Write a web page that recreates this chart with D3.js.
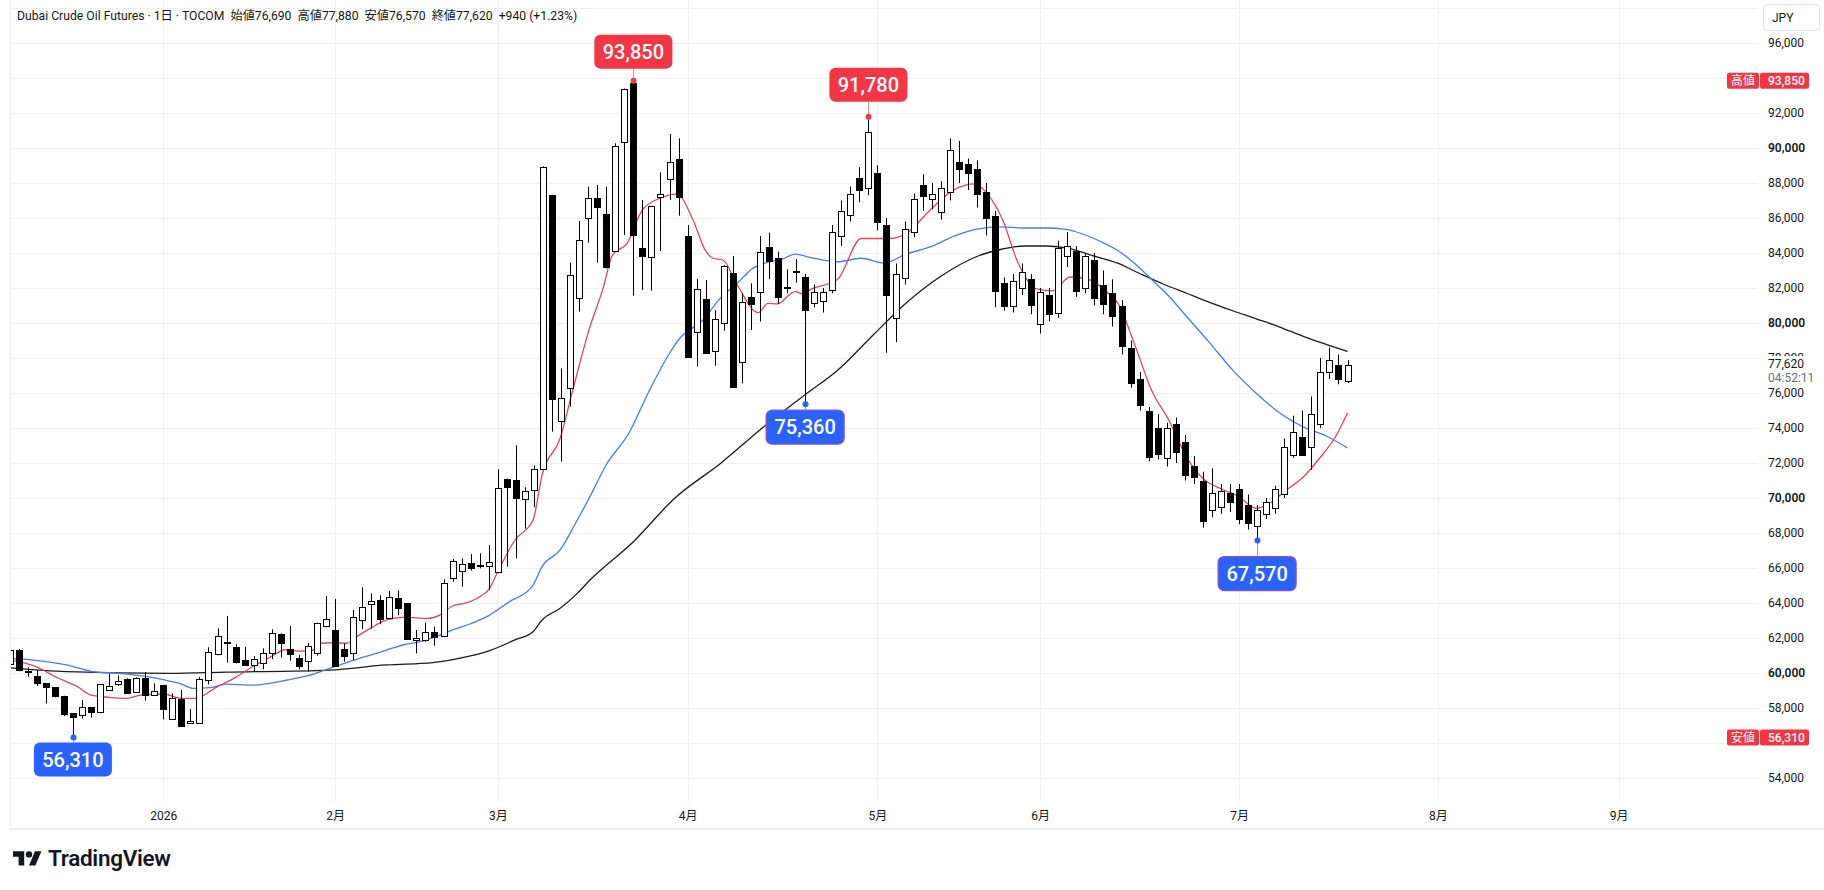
<!DOCTYPE html>
<html>
<head>
<meta charset="utf-8">
<script src="https://cdn.jsdelivr.net/npm/d3@7"></script>
<style>
  body { margin: 0; background: #fff; }
  svg { display: block; font-family: Roboto, "Noto Sans CJK JP", sans-serif; }
</style>
</head>
<body>
<svg></svg>
<script>
// daily bars, [open, high, low, close]; first entry is bar index -17 (0 = first session of 2026)
var firstBar = -17;
var bars = [
    [60500, 61400, 60400, 61300], [61300, 61370, 60100, 60170], [60100, 60320, 59790, 60050],
    [59830, 60170, 59260, 59450], [59430, 59430, 58250, 59220], [59180, 59200, 58600, 58650],
    [58690, 58700, 57540, 57660], [57700, 57700, 56310, 57450], [57640, 58460, 57390, 58080],
    [58040, 58050, 57450, 57730], [57750, 59360, 57740, 59350], [59010, 59940, 59000, 59240],
    [59350, 59870, 59260, 59540], [59640, 59700, 58800, 58840], [58950, 59750, 58940, 59730],
    [59730, 60060, 58420, 58780], [58720, 59410, 58700, 58970],
    // 2026
    [59300, 59300, 57350, 57920], [57370, 58840, 57360, 58550], [58510, 59030, 56980, 56990],
    [57130, 57940, 57120, 57250], [57160, 59770, 57120, 59660], [59600, 61470, 59350, 61220],
    [61090, 62550, 61010, 62100], [61760, 63260, 60590, 61700], [61470, 61660, 60550, 60590],
    [60720, 61500, 60420, 60440], [60420, 60970, 60080, 60780], [60550, 61410, 60210, 61120],
    [61120, 62500, 60800, 62270], [62230, 62260, 60880, 61730], [61350, 62690, 60700, 61050],
    [60840, 61030, 60210, 60380], [60690, 61730, 60080, 61560], [61120, 62880, 60990, 62840],
    [62720, 64400, 62610, 63100],
    // Feb
    [62460, 64230, 60400, 60420], [61370, 61700, 60650, 60990], [61180, 63600, 60740, 63220],
    [63030, 64900, 62510, 63790], [63940, 64550, 62530, 64100], [64150, 64440, 62800, 63070],
    [63180, 64690, 63150, 64360], [64300, 64720, 63300, 63750], [63980, 64000, 61900, 61920],
    [61890, 62460, 61120, 62000], [61890, 62880, 61790, 62320], [62340, 62650, 61560, 62080],
    [62080, 65350, 62050, 65120], [65450, 66510, 65220, 66420], [65790, 66550, 64930, 66210],
    [66270, 66800, 65850, 65980], [66150, 66840, 65980, 66190], [66080, 67310, 64740, 66320],
    // Mar
    [65730, 71640, 65700, 70550], [71070, 71100, 66080, 70610], [71030, 73010, 66550, 70020],
    [69980, 70610, 68250, 70420], [70460, 71870, 69470, 71640], [71640, 88950, 71600, 88900],
    [87310, 87330, 73790, 75650], [74360, 77410, 72080, 75700], [76270, 83450, 75220, 82740],
    [81410, 85830, 80650, 84740], [85980, 87790, 84590, 87120], [87120, 87890, 83450, 86590],
    [86210, 87790, 83120, 83160], [84130, 90270, 84100, 90130], [90320, 93400, 85030, 93350],
    [93730, 93850, 81560, 85070], [84270, 87030, 81890, 83790], [83790, 86700, 81850, 86690],
    [87180, 88610, 84110, 87350], [88210, 90800, 87030, 89180], [89350, 90550, 86130, 87170],
    // Apr
    [84970, 85600, 78000, 78080], [79470, 82510, 77510, 81940], [81370, 82460, 78250, 78300],
    [78360, 80740, 77560, 80210], [79980, 83300, 79560, 83260], [82840, 83830, 76300, 76320],
    [77790, 81700, 76550, 81220], [81470, 82270, 79600, 81050], [81730, 84970, 80080, 84040],
    [84320, 85160, 82510, 83500], [83700, 84080, 81090, 81450], [82040, 83070, 81700, 81990],
    [82960, 83660, 82300, 83000], [82650, 82820, 75360, 80740], [81200, 82200, 80900, 81800],
    [81300, 82000, 80600, 81800], [81900, 85600, 81700, 85200], [85000, 87000, 84400, 86400],
    [86200, 87800, 85800, 87400], [88300, 88900, 86900, 87600], [87700, 91780, 87300, 90900],
    // May
    [88600, 89000, 85300, 85800], [85600, 86000, 78300, 81600], [80300, 83400, 78900, 82800],
    [82600, 85800, 82200, 85400], [85200, 87400, 84900, 87100], [87900, 88500, 86400, 87300],
    [87100, 88000, 86500, 87400], [86300, 88100, 85900, 87700], [87500, 90550, 87000, 89900],
    [89200, 90400, 88000, 88800], [89100, 89400, 87600, 88600], [88800, 89300, 86600, 87400],
    [87500, 88000, 85000, 86000], [86100, 86400, 80900, 81800], [82300, 82600, 80700, 81000],
    [81000, 82800, 80600, 82400], [82000, 83400, 81600, 82900], [82500, 82800, 80500, 81000],
    // Jun
    [80000, 82000, 79400, 81800], [81600, 82000, 80100, 80500], [80600, 84700, 80300, 84300],
    [83800, 85200, 83200, 84400], [84100, 84400, 81500, 81800], [82000, 84000, 81700, 83800],
    [83600, 84000, 81000, 81400], [82200, 83000, 80500, 81100], [81700, 82500, 79800, 80400],
    [81000, 81300, 78200, 78700], [78600, 79000, 76300, 76600], [76800, 77200, 75000, 75300],
    [75000, 75200, 72100, 72400], [74000, 74800, 72200, 72500], [72300, 74300, 71800, 74000],
    [74200, 74600, 72000, 72600], [73200, 73600, 71000, 71300], [71800, 72400, 70800, 71200],
    [71000, 71500, 68300, 68700], [69300, 71700, 68900, 70300], [69500, 70800, 69100, 70400],
    [70300, 70800, 69200, 69800],
    // Jul
    [70500, 70800, 68500, 68800], [69600, 70200, 68200, 68600], [68400, 69600, 67570, 69300],
    [69100, 70000, 68800, 69800], [69400, 70700, 69100, 70500], [70200, 73400, 70000, 72900],
    [72500, 74700, 72300, 73800], [73500, 75000, 72400, 72500], [72900, 75800, 71600, 74800],
    [74200, 78000, 74000, 77200], [77200, 78600, 76800, 77900], [77600, 78200, 76500, 76800],
    [76690, 77880, 76570, 77620]
];

// moving averages: [bar index, value]
var maRed = [[-17,60750],[-14,60350],[-12,59800],[-9.5,59220],[-8,58740],[-6,58610],[-4,58550],[-2.5,58740],
    [0,58800],[2,58550],[3.5,58550],[6,59220],[8,59750],[10,60400],[12,60950],[13.5,61330],[15,61250],
    [16.5,61300],[17.5,61700],[19,61730],[20.3,61700],[21.4,62080],[22.9,62550],[24.7,63030],[26.5,63180],
    [28,63150],[29.2,63120],[30.6,63310],[32,63830],[33.6,64020],[35,64360],[36.1,64840],[37,65790],
    [38.9,67600],[40.9,68740],[41.9,71310],[43.9,73410],[45.3,76170],[47.2,79790],[48.6,81890],[49.7,83890],
    [51.3,84550],[53,86460],[54.9,87120],[56.8,87370],[58.6,85890],[59.9,84210],[60.8,83700],[61.9,83600],
    [63.5,82170],[65.8,80590],[66.9,81120],[67.9,81090],[69.9,81790],[70.8,81660],[71.5,81890],[74.6,82500],
    [77.2,84830],[80.4,84830],[82.3,85160],[84.9,86490],[87.5,87620],[89.8,87950],[91.3,87290],[92.9,85830],
    [94.5,83500],[96.5,81970],[98.4,81840],[100.3,82630],[102.3,82500],[104.2,81840],[105.7,81040],
    [107.4,78850],[109.3,76190],[111.3,74390],[113.2,72330],[115.1,71070],[117,70530],[119,70070],
    [120.9,69410],[122.5,69740],[124.1,70400],[126.1,71200],[128,72330],[129.7,73530],[131,74860]];
var maBlue = [[-17,60840],[-14.4,60740],[-10.7,60460],[-7.8,60080],[-5.1,59980],[-1.8,59790],[0.7,59540],
    [1.8,59410],[3.3,59120],[5.2,59160],[7,59370],[9.9,59310],[13.7,59600],[15.9,59830],[18.4,60270],
    [21.7,60840],[24.7,61310],[26.5,61600],[28.4,61790],[30.3,62110],[32,62460],[33.9,62800],[36.1,63310],
    [38.3,64080],[40.8,64930],[41.9,66080],[43.9,67030],[45.8,68740],[47.2,70080],[49,71900],[51.5,73700],
    [53.8,76170],[56,78270],[57.1,79100],[59.7,80170],[61.6,81410],[63.5,82270],[65.2,83120],[67.1,83500],
    [68.5,83660],[69.9,83940],[71.5,83750],[74.6,83500],[77.2,83700],[79.7,83430],[82.3,83960],[84.9,84360],
    [87.5,84960],[90,85360],[92.6,85490],[95.2,85430],[97.7,85430],[99.7,85360],[101.6,85100],[103.5,84700],
    [105.5,84170],[107.4,83430],[109.3,82500],[111.3,81500],[113.2,80370],[115.8,78840],[118.3,77310],
    [120.9,75990],[123.5,74860],[126.1,74060],[128.7,73530],[131,72860]];
var maBlack = [[-17,60300],[-10.7,60080],[0.7,59980],[7,60050],[18.4,60170],[24.7,60460],[29.8,60590],
    [33.6,60930],[36.1,61280],[38.9,61890],[40.9,62360],[41.9,63030],[43.9,63700],[45.8,64550],[47.2,65310],
    [52,67500],[56.6,70000],[61.7,72000],[66,73890],[71.2,75980],[74.6,77300],[78.5,79300],[82.3,81200],
    [86.1,82700],[90,83800],[92.6,84200],[95.2,84400],[97.7,84400],[100.3,84250],[102.9,83830],[105.5,83430],
    [108,82830],[110.6,82230],[113.2,81700],[115.8,81170],[118.3,80700],[120.9,80240],[123.5,79770],
    [126.1,79240],[128.7,78770],[131,78370]];

var priceTicks = [54000, 56000, 58000, 60000, 62000, 64000, 66000, 68000, 70000, 72000, 74000,
    76000, 78000, 80000, 82000, 84000, 86000, 88000, 90000, 92000, 94000, 96000];
var monthIdx = [0, 19, 37, 58, 79, 97, 119, 141, 161];
var monthLabels = ["2026", "2月", "3月", "4月", "5月", "6月", "7月", "8月", "9月"];

// high / low markers
var marks = [
    { bar: 52, value: 93850, kind: "high" },
    { bar: 78, value: 91780, kind: "high" },
    { bar: 71, value: 75360, kind: "low" },
    { bar: 121, value: 67570, kind: "low" },
    { bar: -10, value: 56310, kind: "low" }
];
var markGap = [12, 15, 6, 16, 5];

var title = "Dubai Crude Oil Futures · 1日 · TOCOM  始値76,690  高値77,880  安値76,570  終値77,620  +940 (+1.23%)";
var lastPrice = 77620, countdown = "04:52:11", periodHigh = 93850, periodLow = 56310;

var svgWidth = 1824, svgHeight = 890;
var plotLeft = 10, plotRight = 1758, plotBottom = 802;
var red = "#f23645", blue = "#2962ff", ink = "#131722";

var svg = d3.select("svg")
    .attr("width", svgWidth)
    .attr("height", svgHeight);

var x = d3.scaleLinear().domain([0, 161]).range([163.3, 1618.7]),
    y = d3.scaleLinear().domain([54000, 96000]).range([778, 43]);

// grid
svg.append("g")
    .selectAll("line")
    .data(priceTicks.concat([98000]))
    .enter().append("line")
    .attr("x1", plotLeft).attr("x2", plotRight)
    .attr("y1", function (d) { return Math.round(y(d)) + 0.5; })
    .attr("y2", function (d) { return Math.round(y(d)) + 0.5; })
    .style("stroke", "#f0f1f4");

svg.append("g")
    .selectAll("line")
    .data(monthIdx)
    .enter().append("line")
    .attr("x1", function (d) { return Math.round(x(d)) + 0.5; })
    .attr("x2", function (d) { return Math.round(x(d)) + 0.5; })
    .attr("y1", 0).attr("y2", plotBottom)
    .style("stroke", "#f0f1f4");

// frame
svg.append("line").attr("x1", 10.5).attr("x2", 10.5).attr("y1", 0).attr("y2", 829)
    .style("stroke", "#eceef2");
svg.append("line").attr("x1", 9).attr("x2", svgWidth).attr("y1", 829).attr("y2", 829)
    .style("stroke", "#eceef2").style("stroke-width", 2);

svg.append("clipPath").attr("id", "plot")
    .append("rect").attr("x", plotLeft + 1).attr("y", 0)
    .attr("width", plotRight - plotLeft - 1).attr("height", plotBottom);

var plot = svg.append("g").attr("clip-path", "url(#plot)");

// moving averages
var maLine = d3.line()
    .x(function (d) { return x(d[0]); })
    .y(function (d) { return y(d[1]); })
    .curve(d3.curveMonotoneX);

[[maBlack, "#1b1b1f"], [maBlue, "#4a7ee0"], [maRed, "#dd4a56"]].forEach(function (m) {
    plot.append("path")
        .datum(m[0])
        .attr("d", maLine)
        .style("fill", "none")
        .style("stroke", m[1])
        .style("stroke-width", 1.3);
});

// candles
var candle = plot.append("g")
    .selectAll("g")
    .data(bars)
    .enter().append("g")
    .attr("transform", function (d, i) { return "translate(" + Math.round(x(firstBar + i)) + ",0)"; });

candle.append("line")
    .attr("x1", 0.5).attr("x2", 0.5)
    .attr("y1", function (d) { return y(d[1]); })
    .attr("y2", function (d) { return y(d[2]); })
    .style("stroke", "#000");

candle.append("rect")
    .attr("x", -2.5)
    .attr("width", 6)
    .attr("y", function (d) { return Math.round(y(Math.max(d[0], d[3]))) + 0.5; })
    .attr("height", function (d) { return Math.max(1, Math.round(Math.abs(y(d[0]) - y(d[3])))); })
    .style("fill", function (d) { return d[3] >= d[0] ? "#fff" : "#000"; })
    .style("stroke", "#000");

// high / low bubbles
var mark = svg.append("g")
    .selectAll("g")
    .data(marks)
    .enter().append("g");

mark.append("line")
    .attr("x1", function (d) { return Math.round(x(d.bar)) + 0.5; })
    .attr("x2", function (d) { return Math.round(x(d.bar)) + 0.5; })
    .attr("y1", function (d) { return y(d.value); })
    .attr("y2", function (d, i) { return d.kind == "high" ? y(d.value) - markGap[i] : y(d.value) + markGap[i]; })
    .style("stroke", function (d) { return d.kind == "high" ? "#f0848c" : "#7f9df5"; });

mark.append("circle")
    .attr("cx", function (d) { return Math.round(x(d.bar)) + 0.5; })
    .attr("cy", function (d) { return y(d.value); })
    .attr("r", 3)
    .style("fill", function (d) { return d.kind == "high" ? red : blue; });

mark.append("rect")
    .attr("x", function (d) { return x(d.bar) - 39; })
    .attr("y", function (d, i) { return d.kind == "high" ? y(d.value) - markGap[i] - 34 : y(d.value) + markGap[i]; })
    .attr("width", 78).attr("height", 34).attr("rx", 6)
    .style("fill", function (d) { return d.kind == "high" ? red : blue; })
    .style("stroke", function (d) { return d.kind == "high" || d.value == 56310 ? "none" : "#8e4fc4"; })
    .style("stroke-width", 1.2);

mark.append("text")
    .attr("x", function (d) { return x(d.bar); })
    .attr("y", function (d, i) { return d.kind == "high" ? y(d.value) - markGap[i] - 17 : y(d.value) + markGap[i] + 17; })
    .attr("dy", "0.36em")
    .attr("text-anchor", "middle")
    .style("fill", "#fff")
    .style("font-size", "20px")
    .style("font-weight", 500)
    .text(function (d) { return d3.format(",")(d.value); });

// price axis; labels sitting under the high / low tags are hidden, as on the chart
var tagged = [periodHigh, periodLow];
var yAxis = svg.append("g")
    .attr("transform", "translate(1768,0)")
    .call(d3.axisRight(y)
        .tickValues(priceTicks.filter(function (t) {
            return tagged.every(function (p) { return Math.abs(y(t) - y(p)) > 9; });
        }))
        .tickSize(0).tickPadding(0).tickFormat(d3.format(",")));
yAxis.select(".domain").remove();
yAxis.selectAll("text")
    .style("font-family", "Roboto, sans-serif")
    .style("font-size", "12px")
    .style("fill", ink)
    .style("font-weight", function (d) { return d % 10000 == 0 ? 600 : 400; });

// time axis
var xAxis = svg.append("g")
    .attr("transform", "translate(0,811)")
    .call(d3.axisBottom(x).tickValues(monthIdx).tickSize(0).tickPadding(0)
        .tickFormat(function (d, i) { return monthLabels[i]; }));
xAxis.select(".domain").remove();
xAxis.selectAll("text")
    .style("font-family", "Roboto, 'Noto Sans CJK JP', sans-serif")
    .style("font-size", "12px")
    .style("fill", ink);

// last price label
svg.append("rect").attr("x", 1760).attr("y", 356).attr("width", 64).attr("height", 31).style("fill", "#fff");
svg.append("text").attr("x", 1768).attr("y", y(lastPrice)).attr("dy", "0.32em")
    .style("font-size", "12px").style("fill", ink).text(d3.format(",")(lastPrice));
svg.append("text").attr("x", 1768).attr("y", y(lastPrice) + 14).attr("dy", "0.32em")
    .style("font-size", "12px").style("fill", "#6a6d78").text(countdown);

// period high / low labels on the axis
[["高値", periodHigh], ["安値", periodLow]].forEach(function (p) {
    var cy = y(p[1]);
    svg.append("rect").attr("x", 1727).attr("y", cy - 8).attr("width", 32).attr("height", 16).attr("rx", 2)
        .style("fill", red);
    svg.append("rect").attr("x", 1760).attr("y", cy - 8).attr("width", 49).attr("height", 16).attr("rx", 2)
        .style("fill", red);
    svg.append("text").attr("x", 1743).attr("y", cy).attr("dy", "0.35em").attr("text-anchor", "middle")
        .style("font-size", "12px").style("fill", "#fff").text(p[0]);
    svg.append("text").attr("x", 1768).attr("y", cy).attr("dy", "0.35em")
        .style("font-size", "12px").style("font-weight", 500).style("fill", "#fff").text(d3.format(",")(p[1]));
});

// currency box
svg.append("rect").attr("x", 1763.5).attr("y", 4.5).attr("width", 56).attr("height", 26).attr("rx", 4)
    .style("fill", "#fff").style("stroke", "#e0e3eb");
svg.append("text").attr("x", 1772).attr("y", 17.5).attr("dy", "0.35em")
    .style("font-size", "12px").style("fill", ink).text("JPY");

// title
svg.append("text").attr("x", 17).attr("y", 16).attr("dy", "0.35em")
    .style("font-size", "12.2px").style("fill", ink)
    .style("white-space", "pre").attr("xml:space", "preserve")
    .text(title);

// logo
var logo = svg.append("g").attr("transform", "translate(13,848) scale(0.8)").style("fill", ink);
logo.append("path").attr("d", "M14 22H7V11H0V4h14v18z");
logo.append("circle").attr("cx", 20).attr("cy", 8).attr("r", 4);
logo.append("path").attr("d", "M28 22h-8l7.5-18h8L28 22z");
svg.append("text").attr("x", 48).attr("y", 858).attr("dy", "0.35em")
    .style("font-size", "22.5px").style("font-weight", 600).style("fill", ink)
    .style("letter-spacing", "-0.3px")
    .text("TradingView");
</script>
</body>
</html>
